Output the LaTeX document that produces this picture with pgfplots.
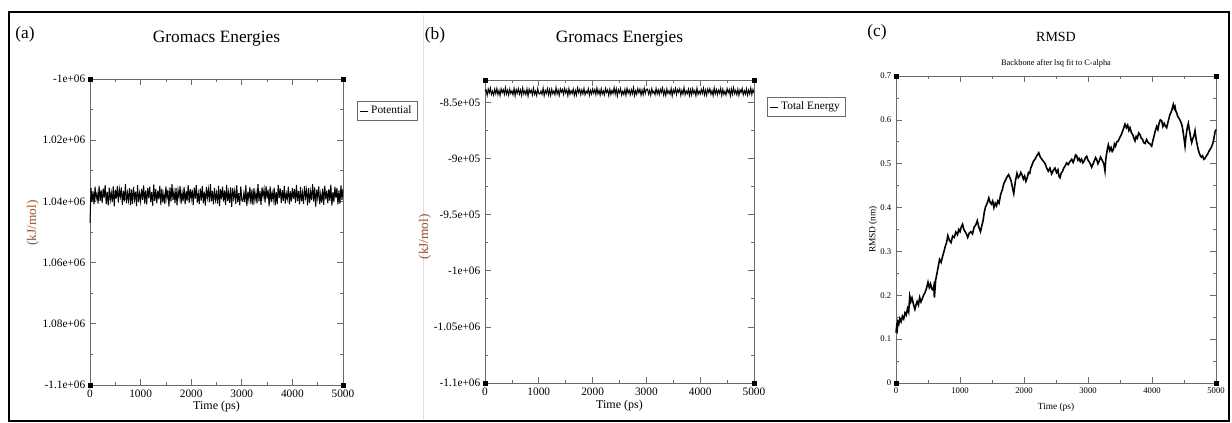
\documentclass[border=0pt]{standalone}
\usepackage{fontspec}
\setmainfont{Liberation Serif}
\usepackage{pgfplots}
\pgfplotsset{compat=1.18}
\usepackage{pgfplotstable}

\definecolor{axgray}{gray}{0.42}
\definecolor{ylab}{RGB}{160,82,45}

\pgfplotstableread{
t a b
0 -1047000 -840000
20 -1035600 -838700
40 -1040100 -843700
60 -1036700 -838000
80 -1041000 -841600
100 -1035200 -837200
120 -1039200 -842900
140 -1037400 -839900
160 -1040700 -843400
180 -1034900 -838300
200 -1039900 -842200
220 -1036300 -837500
240 -1040500 -843100
260 -1035800 -839300
280 -1038800 -843900
300 -1034600 -837800
320 -1040900 -841300
340 -1036900 -838600
360 -1041300 -842800
380 -1035500 -836900
400 -1039600 -842500
420 -1037100 -839100
440 -1040200 -843500
460 -1035100 -838100
480 -1041600 -842000
500 -1036200 -839700
520 -1039100 -843200
540 -1035000 -837400
560 -1040400 -844000
580 -1036000 -838500
600 -1038500 -841800
620 -1035400 -837700
640 -1041100 -842600
660 -1036600 -838900
680 -1040000 -843600
700 -1034300 -837100
720 -1040600 -842400
740 -1037200 -839500
760 -1039700 -843000
780 -1035700 -837900
800 -1041200 -844300
820 -1036100 -838200
840 -1040800 -841500
860 -1035300 -839000
880 -1039400 -843300
900 -1036800 -837300
920 -1041500 -842700
940 -1034700 -839800
960 -1040300 -843800
980 -1037300 -837600
1000 -1040000 -842100
1020 -1035900 -842500
1040 -1039500 -839800
1060 -1034800 -842800
1080 -1040700 -837200
1100 -1036400 -844000
1120 -1041000 -839300
1140 -1035600 -841900
1160 -1038900 -837800
1180 -1035200 -843300
1200 -1040200 -838600
1220 -1037000 -843700
1240 -1041400 -838200
1260 -1034500 -842200
1280 -1039800 -839700
1300 -1036000 -843100
1320 -1040600 -836800
1340 -1036500 -842500
1360 -1039300 -839100
1380 -1034900 -843600
1400 -1041100 -837900
1420 -1035800 -841000
1440 -1040400 -838500
1460 -1037500 -842900
1480 -1040900 -837500
1500 -1035100 -841600
1520 -1039000 -838700
1540 -1036200 -844100
1560 -1041700 -837600
1580 -1035400 -842700
1600 -1040100 -839600
1620 -1034400 -842100
1640 -1039600 -838000
1660 -1036700 -843800
1680 -1040500 -839400
1700 -1035700 -843400
1720 -1041300 -837100
1740 -1036300 -841300
1760 -1038700 -838300
1780 -1035000 -843000
1800 -1040800 -838800
1820 -1037100 -842400
1840 -1040000 -837400
1860 -1035300 -843200
1880 -1041000 -839900
1900 -1036600 -841700
1920 -1039900 -837700
1940 -1034600 -843500
1960 -1040500 -839200
1980 -1036000 -842600
2000 -1039200 -838100
2020 -1036200 -841700
2040 -1041200 -838500
2060 -1035500 -843000
2080 -1039100 -837100
2100 -1034700 -842400
2120 -1040400 -839100
2140 -1037400 -843500
2160 -1040900 -837800
2180 -1035800 -842500
2200 -1039700 -839600
2220 -1035000 -843300
2240 -1040600 -837500
2260 -1036800 -841200
2280 -1041400 -838800
2300 -1035300 -843800
2320 -1038800 -838200
2340 -1036100 -843000
2360 -1040300 -839200
2380 -1034400 -842100
2400 -1040000 -836900
2420 -1036600 -842600
2440 -1041000 -837900
2460 -1035600 -844200
2480 -1039500 -838700
2500 -1037200 -841500
2520 -1040700 -837600
2540 -1034900 -843400
2560 -1041500 -840000
2580 -1036000 -842900
2600 -1039300 -838300
2620 -1035200 -843600
2640 -1040100 -837400
2660 -1036400 -841800
2680 -1041100 -839000
2700 -1034600 -843100
2720 -1039900 -838500
2740 -1037000 -842300
2760 -1040500 -837000
2780 -1035400 -843900
2800 -1041800 -839500
2820 -1035700 -842700
2840 -1039000 -837700
2860 -1036500 -841400
2880 -1040800 -838100
2900 -1034800 -843500
2920 -1040200 -838900
2940 -1037300 -843200
2960 -1041300 -837300
2980 -1035100 -842000
3000 -1039600 -838400
3020 -1040000 -838100
3040 -1037300 -842600
3060 -1040300 -839200
3080 -1034700 -843500
3100 -1041500 -837700
3120 -1036800 -841700
3140 -1039400 -839900
3160 -1035300 -843200
3180 -1040800 -837400
3200 -1036100 -842400
3220 -1041200 -838800
3240 -1035700 -843000
3260 -1039700 -838300
3280 -1037200 -841300
3300 -1040600 -837100
3320 -1034300 -843400
3340 -1040000 -839400
3360 -1036600 -843800
3380 -1041100 -838000
3400 -1035400 -842100
3420 -1038500 -839600
3440 -1036000 -842700
3460 -1040400 -837600
3480 -1035000 -844100
3500 -1039100 -838700
3520 -1036200 -841600
3540 -1041600 -837500
3560 -1035100 -842900
3580 -1040200 -838500
3600 -1037100 -841000
3620 -1039600 -837900
3640 -1035500 -843600
3660 -1041300 -839100
3680 -1036900 -842500
3700 -1040900 -836800
3720 -1034600 -843100
3740 -1038800 -839700
3760 -1035800 -842200
3780 -1040500 -838200
3800 -1036300 -843700
3820 -1039900 -838600
3840 -1034900 -843300
3860 -1040700 -837800
3880 -1037400 -841900
3900 -1039200 -839300
3920 -1035200 -844000
3940 -1041000 -837200
3960 -1036700 -842800
3980 -1040100 -839800
4000 -1035600 -842500
4020 -1039200 -838400
4040 -1036000 -842000
4060 -1040500 -837300
4080 -1034600 -843200
4100 -1039900 -838900
4120 -1036600 -843500
4140 -1041000 -838100
4160 -1035300 -841400
4180 -1040000 -837700
4200 -1037100 -842700
4220 -1040800 -839500
4240 -1035000 -843900
4260 -1038700 -837000
4280 -1036300 -842300
4300 -1041300 -838500
4320 -1035700 -843100
4340 -1040500 -839000
4360 -1036700 -841800
4380 -1039600 -837400
4400 -1034400 -843600
4420 -1040100 -838300
4440 -1035400 -842900
4460 -1041700 -840000
4480 -1036200 -843400
4500 -1039000 -837600
4520 -1035100 -841500
4540 -1040900 -838700
4560 -1037500 -844200
4580 -1040400 -837900
4600 -1035800 -842600
4620 -1041100 -836900
4640 -1034900 -842100
4660 -1039300 -839200
4680 -1036500 -843000
4700 -1040600 -838200
4720 -1036000 -843800
4740 -1039800 -838800
4760 -1034500 -841200
4780 -1041400 -837500
4800 -1037000 -843300
4820 -1040200 -839600
4840 -1035200 -842500
4860 -1038900 -837800
4880 -1035600 -843500
4900 -1041000 -839100
4920 -1036400 -842400
4940 -1040700 -837100
4960 -1034800 -843000
4980 -1039500 -838500
5000 -1035900 -841700
}\energy

\pgfplotstableread{
t r
0 0.115
10 0.128
20 0.122
30 0.14
45 0.135
60 0.147
80 0.14
100 0.152
120 0.146
140 0.16
160 0.155
180 0.17
198 0.162
215 0.198
232 0.186
250 0.194
272 0.18
295 0.168
312 0.178
330 0.186
350 0.178
370 0.195
390 0.185
410 0.192
430 0.2
450 0.205
475 0.215
500 0.23
520 0.218
540 0.226
560 0.214
580 0.212
590 0.22
600 0.195
620 0.235
640 0.25
660 0.265
680 0.282
705 0.275
730 0.29
750 0.3
770 0.312
790 0.32
810 0.336
835 0.325
860 0.32
885 0.335
910 0.332
935 0.344
960 0.338
980 0.35
1000 0.345
1020 0.356
1040 0.362
1060 0.35
1080 0.345
1100 0.34
1120 0.332
1145 0.342
1170 0.345
1195 0.34
1220 0.355
1245 0.36
1270 0.37
1295 0.355
1320 0.345
1340 0.358
1360 0.37
1380 0.39
1400 0.402
1425 0.41
1450 0.422
1470 0.412
1490 0.408
1510 0.415
1530 0.4
1550 0.41
1570 0.404
1590 0.415
1610 0.41
1635 0.43
1660 0.44
1685 0.455
1710 0.462
1735 0.47
1760 0.475
1780 0.468
1800 0.46
1820 0.445
1840 0.432
1865 0.46
1890 0.478
1910 0.468
1930 0.472
1950 0.48
1970 0.474
1990 0.465
2010 0.472
2030 0.46
2050 0.468
2070 0.48
2090 0.478
2105 0.49
2120 0.495
2145 0.505
2170 0.51
2200 0.518
2230 0.525
2255 0.515
2280 0.51
2305 0.505
2330 0.5
2355 0.49
2380 0.483
2405 0.49
2432 0.477
2458 0.485
2484 0.49
2508 0.48
2530 0.486
2545 0.472
2562 0.468
2580 0.478
2600 0.482
2620 0.49
2640 0.494
2665 0.502
2690 0.498
2718 0.505
2745 0.51
2768 0.503
2790 0.512
2805 0.52
2823 0.518
2842 0.508
2860 0.512
2880 0.505
2900 0.51
2920 0.502
2940 0.506
2960 0.514
2979 0.517
3000 0.508
3020 0.504
3040 0.498
3057 0.492
3080 0.5
3100 0.507
3118 0.514
3135 0.51
3155 0.5
3175 0.506
3195 0.515
3213 0.51
3232 0.505
3250 0.498
3265 0.484
3278 0.51
3290 0.522
3305 0.535
3318 0.543
3340 0.53
3360 0.537
3378 0.528
3396 0.532
3413 0.545
3430 0.54
3452 0.55
3474 0.552
3497 0.56
3520 0.566
3550 0.578
3578 0.59
3600 0.582
3620 0.588
3638 0.576
3656 0.582
3680 0.57
3700 0.566
3718 0.558
3734 0.552
3752 0.562
3770 0.558
3792 0.57
3813 0.566
3832 0.558
3850 0.556
3870 0.548
3891 0.546
3915 0.555
3940 0.548
3968 0.545
3995 0.54
4012 0.552
4030 0.562
4052 0.575
4073 0.585
4092 0.578
4110 0.592
4130 0.6
4151 0.598
4170 0.585
4190 0.592
4210 0.586
4229 0.582
4255 0.598
4280 0.612
4305 0.62
4333 0.635
4348 0.626
4360 0.63
4372 0.62
4385 0.616
4402 0.608
4420 0.604
4442 0.598
4464 0.59
4478 0.58
4490 0.568
4503 0.555
4516 0.54
4528 0.558
4540 0.572
4555 0.585
4568 0.592
4582 0.578
4595 0.568
4608 0.556
4620 0.548
4635 0.556
4650 0.562
4662 0.568
4672 0.575
4690 0.555
4710 0.54
4730 0.528
4750 0.52
4770 0.515
4790 0.518
4810 0.51
4828 0.512
4850 0.518
4870 0.522
4888 0.528
4906 0.532
4928 0.538
4950 0.546
4968 0.558
4984 0.572
5000 0.578
}\rmsd

\pgfplotsset{
  grace/.style={
    scale only axis,
    clip=false,
    anchor=south west,
    axis line style={axgray, line width=0.5pt},
    every tick/.style={axgray, line width=0.5pt},
    major tick length=4.5pt,
    minor tick length=2.25pt,
    tick align=inside,
    xtick pos=both, ytick pos=both,
    xmin=0, xmax=5000,
    xtick={0,1000,2000,3000,4000,5000},
    minor x tick num=1,
    minor y tick num=1,
    scaled x ticks=false, scaled y ticks=false,
    xticklabels={0,1000,2000,3000,4000,5000},
    title style={font=\fontsize{13}{15}\selectfont, anchor=center},
    legend style={draw=axgray, line width=0.5pt, fill=white, anchor=north west,
      inner xsep=2pt, inner ysep=1.5pt, cells={anchor=west}},
    legend image code/.code={\draw[black,line width=0.5pt] (0pt,0pt) -- (6pt,0pt);},
  }
}

\begin{document}
\begin{tikzpicture}
\useasboundingbox (0,0) rectangle (924pt,317.25pt);
\fill[white] (0,0) rectangle (924pt,317.25pt);
\draw[gray!25, line width=0.6pt] (317.25pt,306pt) -- (317.25pt,2.25pt);

% (a) Potential
\begin{axis}[grace,
  at={(67.5pt,28.5pt)}, width=189.75pt, height=229.5pt,
  ymin=-1100000, ymax=-1000000,
  ytick={-1100000,-1080000,-1060000,-1040000,-1020000,-1000000},
  yticklabels={-1.1e+06,1.08e+06,1.06e+06,1.04e+06,1.02e+06,-1e+06},
  tick label style={font=\fontsize{8.5}{10}\selectfont},
  title={Gromacs Energies},
  title style={at={([yshift=24pt]axis description cs:0.5,1)}},
  xlabel={Time (ps)},
  xlabel style={font=\fontsize{9}{11}\selectfont, at={([yshift=-16.5pt]axis description cs:0.5,0)}, anchor=center},
  ylabel={(kJ/mol)},
  ylabel style={font=\fontsize{10}{12}\selectfont, text=ylab, at={([xshift=-42.75pt,yshift=6.75pt]axis description cs:0,0.5)}, anchor=center},
  legend style={at={(1.055,0.928)}, font=\fontsize{8.5}{10}\selectfont},
]
\addplot[black, line width=0.75pt] table[x=t, y=a]{\energy};
\addlegendentry{Potential}
\addplot[only marks, mark=square*, mark size=1.6pt, black, forget plot]
  coordinates {(0,-1000000) (5000,-1000000) (0,-1100000) (5000,-1100000)};
\end{axis}

% (b) Total energy
\begin{axis}[grace,
  at={(363.75pt,30pt)}, width=201.75pt, height=227.25pt,
  ymin=-1100000, ymax=-830000,
  ytick={-1100000,-1050000,-1000000,-950000,-900000,-850000},
  yticklabels={-1.1e+06,-1.05e+06,-1e+06,-9.5e+05,-9e+05,-8.5e+05},
  tick label style={font=\fontsize{8.5}{10}\selectfont},
  title={Gromacs Energies},
  title style={at={([yshift=24.75pt]axis description cs:0.5,1)}},
  xlabel={Time (ps)},
  xlabel style={font=\fontsize{9}{11}\selectfont, at={([yshift=-17.25pt]axis description cs:0.5,0)}, anchor=center},
  ylabel={(kJ/mol)},
  ylabel style={font=\fontsize{10}{12}\selectfont, text=ylab, at={([xshift=-45pt,yshift=-4pt]axis description cs:0,0.5)}, anchor=center},
  legend style={at={(1.048,0.944)}, font=\fontsize{8.5}{10}\selectfont},
]
\addplot[black, line width=0.75pt] table[x=t, y=b]{\energy};
\addlegendentry{Total Energy}
\addplot[only marks, mark=square*, mark size=1.6pt, black, forget plot]
  coordinates {(0,-830000) (5000,-830000) (0,-1100000) (5000,-1100000)};
\end{axis}

% (c) RMSD
\begin{axis}[grace,
  at={(672pt,30pt)}, width=240pt, height=230.25pt,
  ymin=0, ymax=0.7,
  ytick={0,0.1,0.2,0.3,0.4,0.5,0.6,0.7},
  yticklabels={0,0.1,0.2,0.3,0.4,0.5,0.6,0.7},
  tick label style={font=\fontsize{6.5}{8}\selectfont},
  title={RMSD},
  title style={font=\fontsize{10.5}{12}\selectfont, at={([yshift=23.25pt]axis description cs:0.5,1)}},
  xlabel={Time (ps)},
  xlabel style={font=\fontsize{7}{8}\selectfont, at={([yshift=-18pt]axis description cs:0.5,0)}, anchor=center},
  ylabel={RMSD (nm)},
  ylabel style={font=\fontsize{7}{8}\selectfont, at={([xshift=-17.25pt]axis description cs:0,0.5)}, anchor=center},
]
\addplot[black, line width=1.2pt] table[x=t, y=r]{\rmsd};
\addplot[only marks, mark=square*, mark size=1.6pt, black, forget plot]
  coordinates {(0,0.7) (5000,0.7) (0,0) (5000,0)};
\node[font=\fontsize{6.3}{7}\selectfont, anchor=center] at ([yshift=9.75pt]axis description cs:0.5,1) {Backbone after lsq fit to C-alpha};
\end{axis}

% panel letters
\node[font=\fontsize{13}{15}\selectfont] at (18.75pt,291.75pt) {(a)};
\node[font=\fontsize{13}{15}\selectfont] at (326.25pt,291pt) {(b)};
\node[font=\fontsize{13}{15}\selectfont] at (657.75pt,293.25pt) {(c)};

% frame
\draw[black, line width=2pt] (6.75pt,308.25pt) rectangle (921.75pt,1.5pt);
\end{tikzpicture}
\end{document}
